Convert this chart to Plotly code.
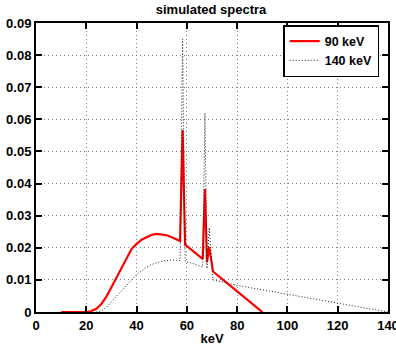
import plotly.graph_objects as go

# 90 keV spectrum
x90 = [10, 20, 22, 24, 26, 28, 30, 32, 34, 36, 38, 40, 42, 44, 46, 48, 50, 52, 54, 56, 57.3,
       58.3, 59.3, 62, 64, 66.3, 67.2, 68.0, 68.9, 70.4, 80, 90]
y90 = [0, 0, 0.0003, 0.001, 0.0025, 0.0048, 0.0077, 0.0107, 0.0140, 0.0170, 0.0196, 0.0212,
       0.0225, 0.0233, 0.0240, 0.0243, 0.0242, 0.0239, 0.0233, 0.0226, 0.0221,
       0.0567, 0.0210, 0.0193, 0.0179, 0.0165, 0.0383, 0.0155, 0.0203, 0.0126, 0.0064, 0.0]

# 140 keV spectrum
x140 = [24, 26, 28, 30, 32, 34, 36, 38, 40, 42, 44, 46, 48, 50, 52, 54, 56, 57.3,
        58.3, 59.3, 62, 64, 66.3, 67.2, 68.0, 68.9, 70.4, 80, 100, 120, 140]
y140 = [0, 0.0003, 0.0015, 0.0032, 0.0051, 0.0069, 0.0085, 0.0100, 0.0116, 0.0129, 0.0140,
        0.0148, 0.0154, 0.0158, 0.0160, 0.0162, 0.0161, 0.0160,
        0.085, 0.0158, 0.0152, 0.0146, 0.0140, 0.0620, 0.0135, 0.0263, 0.0100, 0.0083,
        0.0056, 0.0029, 0.0]

xticks = [0, 20, 40, 60, 80, 100, 120, 140]
xticklabels = ["0", "20", "40", "60", "80", "100", "120", "140"]
yticks = [0, 0.01, 0.02, 0.03, 0.04, 0.05, 0.06, 0.07, 0.08, 0.09]
yticklabels = ["0", "0.01", "0.02", "0.03", "0.04", "0.05", "0.06", "0.07", "0.08", "0.09"]

FAM = "Liberation Sans, Arial, sans-serif"

fig = go.Figure()
fig.add_trace(go.Scatter(x=x90, y=y90, mode="lines", name="<b>90 keV</b>",
                         line=dict(color="#ff0000", width=2.2)))
fig.add_trace(go.Scatter(x=x140, y=y140, mode="lines", name="<b>140 keV</b>",
                         line=dict(color="#222222", width=1, dash="1px,2px")))

font = dict(family=FAM, size=13, color="black")
axis_common = dict(showline=True, linecolor="black", linewidth=2, mirror="allticks",
                   ticks="inside", ticklen=6, tickwidth=2, tickcolor="black",
                   showgrid=True, gridcolor="#808080", griddash="1px,3px", gridwidth=1,
                   zeroline=False, tickfont=font, automargin=False,
                   ticklabeloverflow="allow")

fig.update_layout(
    width=396, height=347,
    margin=dict(l=36, r=8, t=23, b=35),
    paper_bgcolor="white", plot_bgcolor="white",
    title=dict(text="<b>simulated spectra</b>", x=0.533, xanchor="center", y=0.974, yanchor="middle",
               font=dict(family=FAM, size=13, color="black")),
    xaxis=dict(range=[0, 140], tickvals=xticks, ticktext=["<b>%s</b>" % t for t in xticklabels],
               title=dict(text="<b>keV</b>", font=font, standoff=2), **axis_common),
    yaxis=dict(range=[0, 0.09], tickvals=yticks, ticktext=["<b>%s</b>" % t for t in yticklabels],
               **axis_common),
    legend=dict(x=0.975, y=0.993, xanchor="right", yanchor="top",
                bordercolor="black", borderwidth=1.5, bgcolor="white",
                font=dict(family=FAM, size=12.5, color="black"), tracegroupgap=0, itemwidth=30),
    showlegend=True,
)

fig.write_html("out.html", config={"displayModeBar": False},
               post_script="document.body.style.margin='0';")
